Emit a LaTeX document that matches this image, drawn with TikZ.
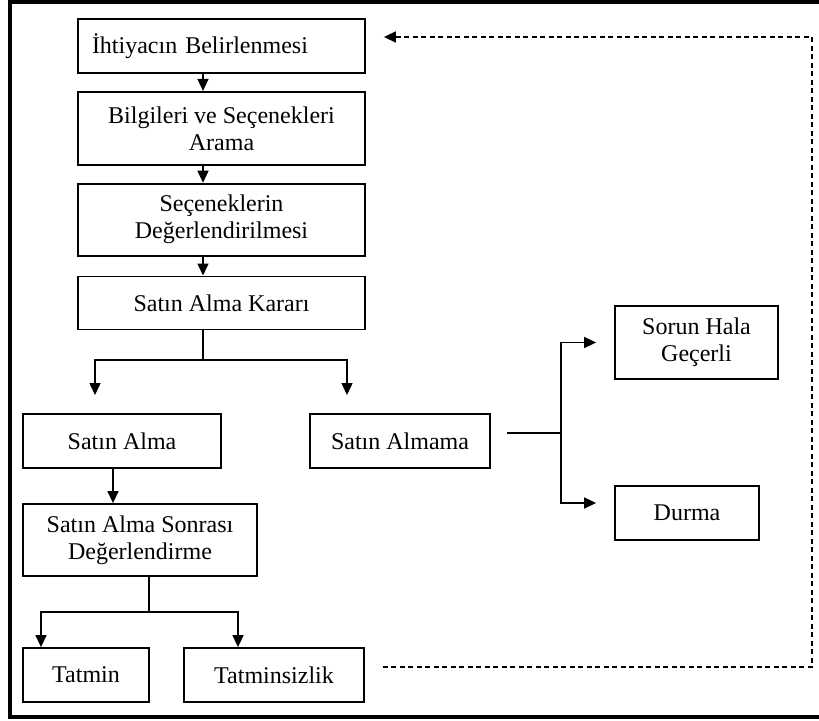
\documentclass[tikz,border=0pt]{standalone}
\usepackage{fontspec}
\setmainfont{Liberation Serif}
\usetikzlibrary{positioning,arrows.meta}

\begin{document}
\begin{tikzpicture}[x=1pt,y=-1pt,
    font=\fontsize{24}{27}\selectfont,
    box/.style={rectangle,draw,line width=1.8pt,inner sep=0pt,align=center},
    link/.style={line width=1.5pt},
    arrow/.style={-{Triangle[length=12pt,width=11pt]},line width=1.5pt},
    feedback/.style={-{Triangle[length=12pt,width=11pt]},line width=1.6pt,dash pattern=on 5pt off 3.5pt},
    frame/.style={line width=3.5pt}]

    \useasboundingbox (0,0) rectangle (819,720);
    \draw[frame] (10,2) rectangle (830,717);

    % main column
    \node[box,minimum width=287pt,minimum height=54pt,text width=259pt,align=left] (ihtiyac) at (221.5,46) {İhtiyacın Belirlenmesi};
    \node[box,minimum width=287pt,minimum height=73pt,below=17pt of ihtiyac] (bilgi) {Bilgileri ve Seçenekleri\\Arama};
    \node[box,minimum width=287pt,minimum height=72pt,below=17pt of bilgi] (secenek) {Seçeneklerin\\Değerlendirilmesi};
    \node[box,minimum width=287pt,minimum height=53pt,below=19pt of secenek] (karar) {Satın Alma Kararı};

    % decision
    \node[box,minimum width=198pt,minimum height=54pt] (alma) at (122,441) {Satın Alma};
    \node[box,minimum width=180pt,minimum height=54pt] (almama) at (400,441) {Satın Almama};
    \node[box,minimum width=234pt,minimum height=72pt] (sonrasi) at (140,540) {Satın Alma Sonrası\\Değerlendirme};
    \node[box,minimum width=126pt,minimum height=54pt] (tatmin) at (86,675) {Tatmin};
    \node[box,minimum width=180pt,minimum height=54pt] (tatminsiz) at (274,675) {Tatminsizlik};
    \node[box,minimum width=163pt,minimum height=73pt] (sorun) at (696.5,342.5) {Sorun Hala\\Geçerli};
    \node[box,minimum width=144pt,minimum height=54pt] (durma) at (687,513) {Durma};

    \coordinate (spine) at (203,0);
    \coordinate (kararsplit) at (203,360);
    \coordinate (almatip) at (95,395);
    \coordinate (almamatip) at (347,395);
    \coordinate (sonrasisplit) at (149,612);
    \coordinate (almamaout) at (507,433);
    \coordinate (almamasplit) at (561,433);
    \coordinate (loopturn) at (812,37);

    \draw[arrow] (ihtiyac.south -| spine) -- (bilgi.north -| spine);
    \draw[arrow] (bilgi.south -| spine) -- (secenek.north -| spine);
    \draw[arrow] (secenek.south -| spine) -- (karar.north -| spine);

    \draw[link] (karar.south -| kararsplit) -- (kararsplit);
    \draw[arrow] (kararsplit) -| (almatip);
    \draw[arrow] (kararsplit) -| (almamatip);

    \draw[arrow] ([xshift=-9pt]alma.south) -- ([xshift=-9pt]alma.south |- sonrasi.north);

    \draw[link] (sonrasi.south -| sonrasisplit) -- (sonrasisplit);
    \draw[arrow] (sonrasisplit) -| ([xshift=-45pt]tatmin.north);
    \draw[arrow] (sonrasisplit) -| ([xshift=-36pt]tatminsiz.north);

    \draw[link] (almamaout) -- (almamasplit);
    \draw[arrow] (almamasplit) |- ([xshift=-18pt]sorun.west);
    \draw[arrow] (almamasplit) |- ([shift={(-18pt,10pt)}]durma.west);

    % back to the start
    \draw[feedback] ([shift={(18pt,8pt)}]tatminsiz.east) -| (loopturn) -- ([shift={(18pt,9pt)}]ihtiyac.east);

\end{tikzpicture}
\end{document}
